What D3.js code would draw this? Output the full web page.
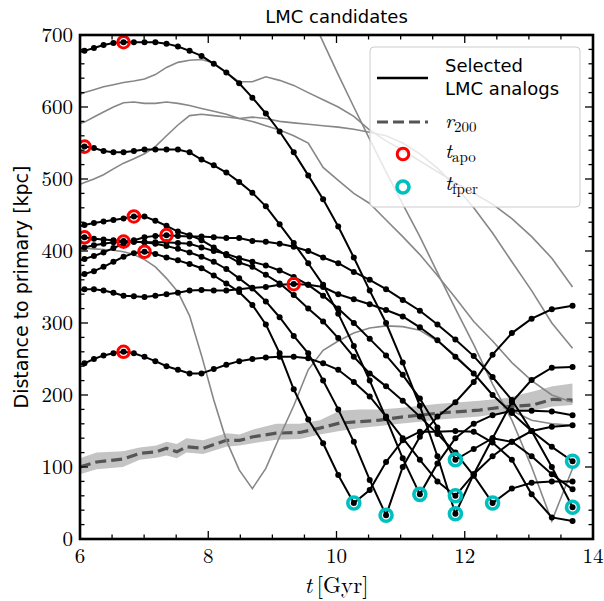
<!DOCTYPE html>
<html><head><meta charset="utf-8">
<script src="https://cdn.jsdelivr.net/npm/d3@7"></script>
<style>
body{margin:0;background:#fff;}
svg{display:block;}
</style></head>
<body>
<svg id="chart" width="604" height="601"></svg>
<script>
// snapshot times (Gyr)
const T = [5.927,6.070,6.217,6.367,6.521,6.679,6.840,7.006,7.175,7.349,7.527,7.709,7.895,8.086,8.282,8.482,8.688,8.898,9.113,9.333,9.559,9.791,10.027,10.270,10.518,10.773,11.033,11.300,11.574,11.854,12.140,12.434,12.735,13.043,13.358,13.681];

// selected LMC analogs (distance, kpc)
const B1 = [675,678,682,686,689,690,690,690,690,688,684,678,671,660,648,633,613,591,566,537,505,472,434,391,345,300,245,185,115,35,90,140,190,221,238,239];
const B2 = [546,545,543,539,537,537,539,541,541,541,541,537,527,519,509,496,481,462,437,411,383,353,313,268,220,168,112,62,105,140,160,172,178,178,177,172];
const B3 = [433,436,439,441,443,445,448,448,442,435,427,422,415,405,394,384,378,367,355,339,320,302,279,253,230,212,192,170,146,120,88,50,70,78,80,80];
const B4 = [418,419,417,416,415,414,413,412,412,412,411,410,405,400,396,390,385,380,373,364,353,338,320,300,278,255,228,195,155,110,125,140,135,115,90,69];
const B5 = [400,405,408,410,412,413,413,412,410,407,403,398,392,385,375,362,348,330,308,282,258,220,180,135,82,33,100,142,170,190,218,256,286,306,319,324];
const B6 = [365,368,372,378,385,392,397,399,396,391,387,382,376,366,355,343,325,298,258,208,166,133,89,50,68,107,137,149,149,150,149,134,110,62,30,25];
const B7 = [385,389,393,398,404,410,415,419,421,422,421,420,420,419,418,418,414,413,410,406,400,391,383,371,360,347,332,317,298,277,254,225,193,150,100,44];
const B8 = [345,347,347,345,342,338,337,336,338,340,342,345,346,345,345,347,349,350,353,354,353,350,340,333,326,318,309,294,276,253,230,200,175,150,128,108];
const B9 = [240,244,250,255,258,260,258,253,247,240,235,230,230,236,242,247,250,252,253,253,251,244,235,218,198,170,140,110,80,60,90,115,135,150,156,158];
const selected = [B1,B2,B3,B4,B5,B6,B7,B8,B9];
const apoIdx  = [5,1,6,1,5,7,9,19,5];
const fperIdx = [29,27,31,29,25,23,35,35,29];

// other candidates (grey)
const G1 = [615,620,624,628,631,634,636,639,645,655,662,665,666,661,648,635,635,642,637,630,620,610,600,587,568,553,540,525,510,495,480,465,445,420,390,350];
const G2 = [575,579,586,593,600,606,607,605,605,607,605,602,598,594,590,584,580,574,568,560,550,516,498,480,466,443,420,395,366,335,302,275,245,220,200,190];
const G3 = [490,495,500,506,514,522,528,535,545,560,575,588,590,588,586,584,586,584,580,578,576,574,572,569,565,560,550,535,515,490,460,425,385,345,300,265];
const G4 = [null,null,null,null,null,null,null,null,null,null,null,null,null,null,null,null,null,null,null,null,735,690,645,600,555,510,465,420,370,320,270,215,165,100,25,98];
const G5 = [405,404,403,402,401,399,395,388,378,362,343,310,255,193,137,96,70,98,142,185,235,262,275,286,293,296,295,290,275,255,230,200,178,165,160,158];
const others = [G1,G2,G3,G4,G5];

// r200 and its scatter
const tR = [6.0,6.26,6.67,6.93,7.19,7.35,7.51,7.66,7.92,8.28,8.49,8.7,9.06,9.43,9.74,10.05,10.36,10.67,10.98,11.3,11.61,11.92,12.23,12.65,13.06,13.37,13.68];
const r200 = [100,107,111,119,121,126,121,128,126,137,137,142,147,148,154,161,163,165,169,172,175,177,179,184,186,194,193];
const r200Lo = [90,97,100,110,113,116,112,120,118,128,130,133,138,139,145,150,154,157,160,163,166,168,170,176,178,184,186];
const r200Hi = [112,120,122,127,130,135,132,140,137,147,145,152,160,160,165,178,180,180,182,185,188,190,192,196,205,212,216];

const xTicks = [6,8,10,12,14];
const yTicks = [0,100,200,300,400,500,600,700];

const svg = d3.select('#chart');
const L = 80, R = 593, TOP = 35, BOT = 539;
const x = d3.scaleLinear().domain([6,14]).range([L,R]);
const y = d3.scaleLinear().domain([0,700]).range([BOT,TOP]);

svg.append('defs').append('clipPath').attr('id','clip')
  .append('rect').attr('x',L).attr('y',TOP).attr('width',R-L).attr('height',BOT-TOP);
const g = svg.append('g').attr('clip-path','url(#clip)');

// r200 band
const band = tR.map((t,i)=>({t, lo:r200Lo[i], hi:r200Hi[i]}));
g.append('path').datum(band)
  .attr('d', d3.area().x(d=>x(d.t)).y0(d=>y(d.lo)).y1(d=>y(d.hi)))
  .attr('fill','#c4c4c4');
g.append('path').datum(tR.map((t,i)=>[t,r200[i]]))
  .attr('d', d3.line().x(d=>x(d[0])).y(d=>y(d[1])))
  .attr('fill','none').attr('stroke','#555').attr('stroke-width',3.2)
  .attr('stroke-dasharray','11,5');

const line = d3.line().defined(d=>d[1]!==null).x(d=>x(d[0])).y(d=>y(d[1]));
// grey lines
others.forEach(s=>{
  g.append('path').datum(T.map((t,i)=>[t,s[i]]))
   .attr('d', line).attr('fill','none').attr('stroke','#878787').attr('stroke-width',1.6);
});
// black lines with snapshot dots
selected.forEach(s=>{
  const pts = T.map((t,i)=>[t,s[i]]);
  g.append('path').datum(pts).attr('d', line)
   .attr('fill','none').attr('stroke','#000').attr('stroke-width',2);
  g.selectAll(null).data(pts).enter().append('circle')
   .attr('cx',d=>x(d[0])).attr('cy',d=>y(d[1])).attr('r',3).attr('fill','#000');
});
// apocentre / first pericentre markers
selected.forEach((s,k)=>{
  g.append('circle').attr('cx',x(T[apoIdx[k]])).attr('cy',y(s[apoIdx[k]]))
   .attr('r',5.8).attr('fill','none').attr('stroke','#ff0000').attr('stroke-width',3);
  g.append('circle').attr('cx',x(T[fperIdx[k]])).attr('cy',y(s[fperIdx[k]]))
   .attr('r',6).attr('fill','none').attr('stroke','#00bfbf').attr('stroke-width',3.6);
});

// axes: ticks inward on all four sides
const ax = svg.append('g');
const minorX = d3.range(6,14.01,0.5), minorY = d3.range(0,700.1,20);
minorX.forEach(v=>{
  const big = xTicks.includes(v);
  const len = big?8:4.5;
  ax.append('line').attr('x1',x(v)).attr('x2',x(v)).attr('y1',BOT).attr('y2',BOT-len).attr('stroke','#000').attr('stroke-width',1.3);
  ax.append('line').attr('x1',x(v)).attr('x2',x(v)).attr('y1',TOP).attr('y2',TOP+len).attr('stroke','#000').attr('stroke-width',1.3);
});
minorY.forEach(v=>{
  const big = yTicks.includes(Math.round(v));
  const len = big?8:4.5;
  ax.append('line').attr('y1',y(v)).attr('y2',y(v)).attr('x1',L).attr('x2',L+len).attr('stroke','#000').attr('stroke-width',1.3);
  ax.append('line').attr('y1',y(v)).attr('y2',y(v)).attr('x1',R).attr('x2',R-len).attr('stroke','#000').attr('stroke-width',1.3);
});
ax.append('rect').attr('x',L).attr('y',TOP).attr('width',R-L).attr('height',BOT-TOP)
  .attr('fill','none').attr('stroke','#000').attr('stroke-width',2.6);

const serif = "'Latin Modern Roman','CMU Serif','Liberation Serif',serif";
const sans = "'DejaVu Sans',sans-serif";
xTicks.forEach(v=>{
  svg.append('text').attr('x',x(v)).attr('y',563).attr('text-anchor','middle')
   .attr('font-family',serif).attr('font-size',21).text(v);
});
yTicks.forEach(v=>{
  svg.append('text').attr('x',L-7).attr('y',y(v)+7).attr('text-anchor','end')
   .attr('font-family',serif).attr('font-size',21).text(v);
});

// title & axis labels
svg.append('text').attr('x',(L+R)/2).attr('y',23).attr('text-anchor','middle')
  .attr('font-family',sans).attr('font-size',18).text('LMC candidates');
const xl = svg.append('text').attr('x',(L+R)/2).attr('y',593).attr('text-anchor','middle')
  .attr('font-family',serif).attr('font-size',23);
xl.append('tspan').attr('font-style','italic').text('t');
xl.append('tspan').text('\u2009[Gyr]');
svg.append('text').attr('transform',`translate(28,${(TOP+BOT)/2}) rotate(-90)`)
  .attr('text-anchor','middle').attr('font-family',sans).attr('font-size',19)
  .text('Distance to primary [kpc]');

// legend
const lg = svg.append('g');
lg.append('rect').attr('x',370).attr('y',47).attr('width',210).attr('height',160).attr('rx',4)
  .attr('fill','rgba(255,255,255,0.8)').attr('stroke','#cccccc').attr('stroke-width',1);
lg.append('line').attr('x1',377).attr('x2',428).attr('y1',78).attr('y2',78).attr('stroke','#000').attr('stroke-width',2.6);
lg.append('text').attr('x',445).attr('y',72).attr('font-family',sans).attr('font-size',18).text('Selected');
lg.append('text').attr('x',445).attr('y',95).attr('font-family',sans).attr('font-size',18).text('LMC analogs');
lg.append('line').attr('x1',377).attr('x2',428).attr('y1',122).attr('y2',122).attr('stroke','#555').attr('stroke-width',3.2).attr('stroke-dasharray','11,5');
const t1 = lg.append('text').attr('x',445).attr('y',128).attr('font-family',serif).attr('font-size',21);
t1.append('tspan').attr('font-style','italic').text('r');
t1.append('tspan').attr('font-size',15).attr('dy',4).text('200');
lg.append('circle').attr('cx',403).attr('cy',154).attr('r',5.8).attr('fill','none').attr('stroke','#ff0000').attr('stroke-width',3);
const t2 = lg.append('text').attr('x',445).attr('y',158).attr('font-family',serif).attr('font-size',21);
t2.append('tspan').attr('font-style','italic').text('t');
t2.append('tspan').attr('font-size',15).attr('dy',4).text('apo');
lg.append('circle').attr('cx',403).attr('cy',187).attr('r',6).attr('fill','none').attr('stroke','#00bfbf').attr('stroke-width',3.6);
const t3 = lg.append('text').attr('x',445).attr('y',190).attr('font-family',serif).attr('font-size',21);
t3.append('tspan').attr('font-style','italic').text('t');
t3.append('tspan').attr('font-size',15).attr('dy',4).text('fper');
</script>
</body></html>
